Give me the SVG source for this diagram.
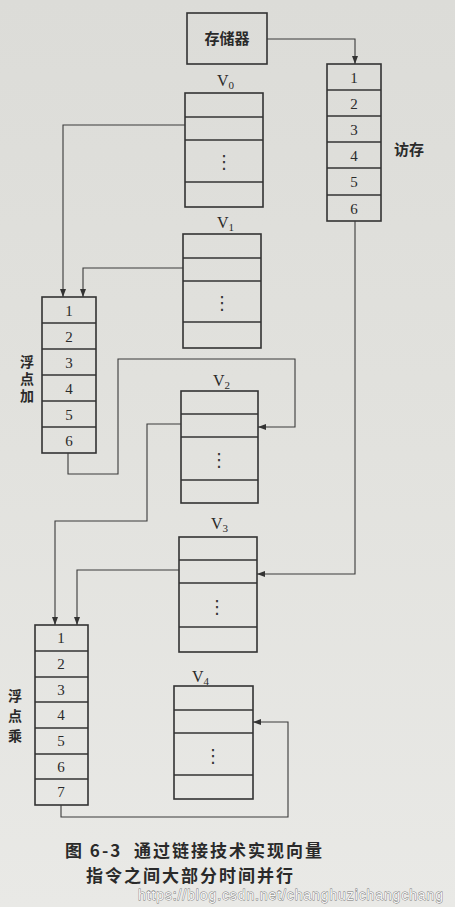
<svg xmlns="http://www.w3.org/2000/svg" width="455" height="907" viewBox="0 0 455 907">
<defs>
<linearGradient id="bg" x1="0" y1="0" x2="0" y2="1">
<stop offset="0" stop-color="#dcdcd8"/>
<stop offset="0.5" stop-color="#e2e2de"/>
<stop offset="1" stop-color="#e9e9e6"/>
</linearGradient>
<marker id="ah" markerWidth="9" markerHeight="6" refX="8" refY="3" orient="auto" markerUnits="userSpaceOnUse">
<path d="M0,0 L8,3 L0,6 z" fill="#333"/>
</marker>
<style>
.box{fill:none;stroke:#333;stroke-width:1.6}
.row{stroke:#333;stroke-width:1.4}
.num{font-family:"Liberation Serif",serif;font-size:15px;fill:#2a2a2a;text-anchor:middle}
.v{font-family:"Liberation Serif",serif;font-size:16px;fill:#2a2a2a}
.vs{font-size:11px}
.dots{font-family:"DejaVu Sans",sans-serif;font-size:18px;fill:#333;text-anchor:middle}
.cjk{font-family:"Noto Sans CJK SC",sans-serif;font-size:15px;fill:#2a2a2a;font-weight:bold}
.vt{font-family:"Noto Sans CJK SC",sans-serif;font-size:14px;fill:#2a2a2a;font-weight:bold;writing-mode:tb}
.cap{font-family:"Noto Sans CJK SC",sans-serif;font-size:17px;fill:#2a2a2a;font-weight:bold;letter-spacing:2px}
.conn{fill:none;stroke:#3a3a3a;stroke-width:1.1}
</style>
</defs>
<rect x="0" y="0" width="455" height="907" fill="url(#bg)"/>

<g id="mem">
<rect class="box" x="187" y="13" width="80" height="51"/>
<text class="cjk" x="227" y="44" text-anchor="middle" font-size="16">存储器</text>
</g>

<g id="access">
<rect class="box" x="327" y="64" width="54" height="157"/>
<line class="row" x1="327" y1="90" x2="381" y2="90"/>
<line class="row" x1="327" y1="116" x2="381" y2="116"/>
<line class="row" x1="327" y1="142" x2="381" y2="142"/>
<line class="row" x1="327" y1="168" x2="381" y2="168"/>
<line class="row" x1="327" y1="195" x2="381" y2="195"/>
<text class="num" x="354" y="83">1</text>
<text class="num" x="354" y="109">2</text>
<text class="num" x="354" y="135">3</text>
<text class="num" x="354" y="161">4</text>
<text class="num" x="354" y="187">5</text>
<text class="num" x="354" y="214">6</text>
<text class="cjk" x="394" y="155">访存</text>
</g>

<g id="V0">
<text class="v" x="217" y="86">V<tspan class="vs" dy="3">0</tspan></text>
<rect class="box" x="185" y="93" width="78" height="114"/>
<line class="row" x1="185" y1="117" x2="263" y2="117"/>
<line class="row" x1="185" y1="140" x2="263" y2="140"/>
<line class="row" x1="185" y1="182" x2="263" y2="182"/>
<text class="dots" x="224" y="168">⋮</text>
</g>

<g id="V1">
<text class="v" x="217" y="228">V<tspan class="vs" dy="3">1</tspan></text>
<rect class="box" x="183" y="234" width="78" height="114"/>
<line class="row" x1="183" y1="258" x2="261" y2="258"/>
<line class="row" x1="183" y1="281" x2="261" y2="281"/>
<line class="row" x1="183" y1="322" x2="261" y2="322"/>
<text class="dots" x="222" y="309">⋮</text>
</g>

<g id="V2">
<text class="v" x="213" y="386">V<tspan class="vs" dy="3">2</tspan></text>
<rect class="box" x="181" y="391" width="77" height="112"/>
<line class="row" x1="181" y1="414" x2="258" y2="414"/>
<line class="row" x1="181" y1="437" x2="258" y2="437"/>
<line class="row" x1="181" y1="480" x2="258" y2="480"/>
<text class="dots" x="219" y="466">⋮</text>
</g>

<g id="V3">
<text class="v" x="211" y="529">V<tspan class="vs" dy="3">3</tspan></text>
<rect class="box" x="179" y="537" width="78" height="115"/>
<line class="row" x1="179" y1="560" x2="257" y2="560"/>
<line class="row" x1="179" y1="583" x2="257" y2="583"/>
<line class="row" x1="179" y1="627" x2="257" y2="627"/>
<text class="dots" x="217" y="613">⋮</text>
</g>

<g id="V4">
<text class="v" x="192" y="682">V<tspan class="vs" dy="3">4</tspan></text>
<rect class="box" x="174" y="686" width="79" height="113"/>
<line class="row" x1="174" y1="710" x2="253" y2="710"/>
<line class="row" x1="174" y1="733" x2="253" y2="733"/>
<line class="row" x1="174" y1="775" x2="253" y2="775"/>
<text class="dots" x="213" y="762">⋮</text>
</g>

<g id="fadd">
<rect class="box" x="42" y="297" width="54" height="156"/>
<line class="row" x1="42" y1="323" x2="96" y2="323"/>
<line class="row" x1="42" y1="349" x2="96" y2="349"/>
<line class="row" x1="42" y1="375" x2="96" y2="375"/>
<line class="row" x1="42" y1="401" x2="96" y2="401"/>
<line class="row" x1="42" y1="427" x2="96" y2="427"/>
<text class="num" x="69" y="316">1</text>
<text class="num" x="69" y="342">2</text>
<text class="num" x="69" y="368">3</text>
<text class="num" x="69" y="394">4</text>
<text class="num" x="69" y="420">5</text>
<text class="num" x="69" y="446">6</text>
<text class="vt" x="27" y="355" letter-spacing="3">浮点加</text>
</g>

<g id="fmul">
<rect class="box" x="35" y="625" width="53" height="180"/>
<line class="row" x1="35" y1="651" x2="88" y2="651"/>
<line class="row" x1="35" y1="677" x2="88" y2="677"/>
<line class="row" x1="35" y1="702" x2="88" y2="702"/>
<line class="row" x1="35" y1="728" x2="88" y2="728"/>
<line class="row" x1="35" y1="754" x2="88" y2="754"/>
<line class="row" x1="35" y1="779" x2="88" y2="779"/>
<text class="num" x="61" y="643">1</text>
<text class="num" x="61" y="669">2</text>
<text class="num" x="61" y="695">3</text>
<text class="num" x="61" y="720">4</text>
<text class="num" x="61" y="746">5</text>
<text class="num" x="61" y="772">6</text>
<text class="num" x="61" y="797">7</text>
<text class="vt" x="15" y="689" letter-spacing="6">浮点乘</text>
</g>

<g id="connectors">
<path class="conn" d="M267,39 H355 V64" marker-end="url(#ah)"/>
<path class="conn" d="M185,125 H63 V297" marker-end="url(#ah)"/>
<path class="conn" d="M183,268 H83 V297" marker-end="url(#ah)"/>
<path class="conn" d="M68,453 V474 H118 V359 H295 V427 H258" marker-end="url(#ah)"/>
<path class="conn" d="M181,424 H147 V521 H55 V625" marker-end="url(#ah)"/>
<path class="conn" d="M179,570 H77 V625" marker-end="url(#ah)"/>
<path class="conn" d="M355,221 V574 H257" marker-end="url(#ah)"/>
<path class="conn" d="M61,805 V817 H288 V722 H253" marker-end="url(#ah)"/>
</g>

<g id="caption">
<text class="cap" x="65" y="857" letter-spacing="0">图 6-3</text>
<text class="cap" x="134" y="857">通过链接技术实现向量</text>
<text class="cap" x="86" y="882">指令之间大部分时间并行</text>
<text x="138" y="900" font-family="Liberation Sans, sans-serif" font-size="14" textLength="305" fill="#f6f6f6" stroke="#777" stroke-width="0.8" paint-order="stroke">https://blog.csdn.net/changhuzichangchang</text>
</g>
</svg>
